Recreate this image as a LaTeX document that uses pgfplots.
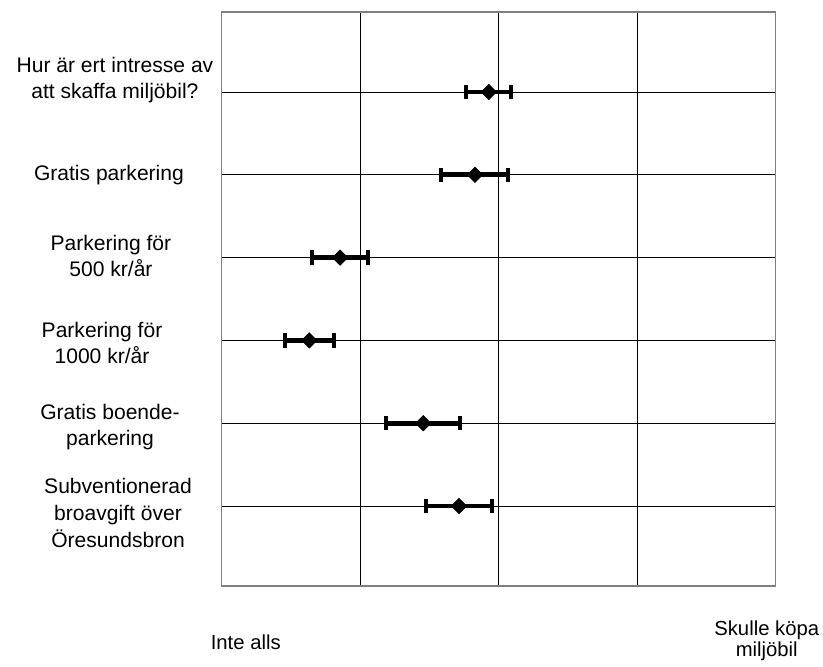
\documentclass[border=0pt]{standalone}
\usepackage{pgfplots}
\pgfplotsset{compat=1.18}
\usepackage{fontspec}
\setmainfont{Liberation Sans}
\begin{document}
\begin{tikzpicture}
\path[use as bounding box] (-166.1pt,-60pt) rectangle (451.1pt,439.5pt);
\begin{axis}[at={(0,0)}, anchor=south west, scale only axis,
  width=415.5pt, height=430.5pt,
  xmin=1, xmax=5, ymin=0.034, ymax=6.966,
  xtick={2,3,4}, xticklabels={}, ytick={1,...,6}, yticklabels={},
  major tick length=0pt,
  grid=major, grid style={black, line width=0.7pt},
  axis line style={gray, line width=0.9pt},
  clip=false]
\addplot[black, only marks, mark=square*, mark size=4.1pt, mark options={rotate=45},
  error bars/.cd, x dir=both, x explicit,
  error bar style={line width=3.5pt},
  error mark=|,
  error mark options={line width=3pt, mark size=5.4pt}]
  table[x=x, y=y, x error=e] {
x y e
2.93 6 0.163
2.83 5 0.242
1.856 4 0.201
1.634 3 0.175
2.457 2 0.267
2.715 1 0.238
};
\end{axis}
\begin{scope}[every node/.style={font=\fontsize{15.8pt}{20pt}\selectfont, align=center, inner sep=0pt, anchor=center}]
\node at (-79.9pt,379.5pt) {Hur är ert intresse av\\att skaffa miljöbil?};
\node at (-84.4pt,308.25pt) {Gratis parkering};
\node at (-82.9pt,247.5pt) {Parkering för\\500 kr/år};
\node at (-89.6pt,182.25pt) {Parkering för\\1000 kr/år};
\node at (-83.6pt,119.25pt) {Gratis boende-\\parkering};
\node at (-77.6pt,54.75pt) {Subventionerad\\broavgift över\\Öresundsbron};
\node[font=\fontsize{15.2pt}{16.3pt}\selectfont] at (18.2pt,-42.5pt) {Inte alls};
\node[font=\fontsize{15.2pt}{16.3pt}\selectfont] at (408.9pt,-41.1pt) {Skulle köpa\\miljöbil};
\end{scope}
\end{tikzpicture}
\end{document}
